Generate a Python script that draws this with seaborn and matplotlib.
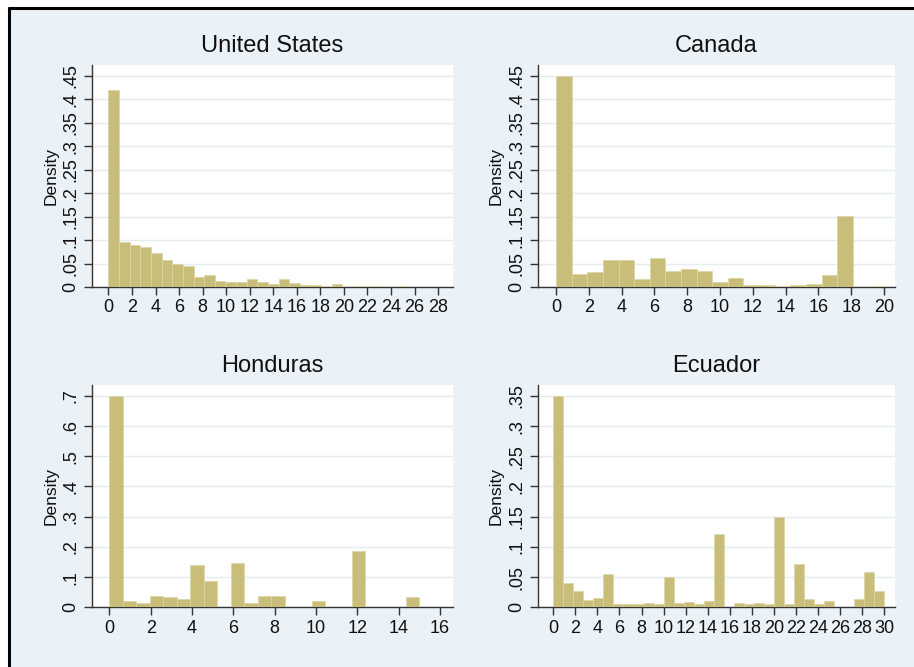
import numpy as np
import pandas as pd
import matplotlib
matplotlib.use("Agg")
import matplotlib.pyplot as plt
from matplotlib.patches import Rectangle
from matplotlib.lines import Line2D
import seaborn as sns

sns.set_style("white")
plt.rcParams['font.family'] = ['Liberation Sans', 'DejaVu Sans']

# ---- data (density per bin) ----
titles = ["United States", "Canada", "Honduras", "Ecuador"]
range_max = [28, 20, 15, 30]

us_density = [0.420, 0.096, 0.089, 0.086, 0.073, 0.058, 0.050, 0.045, 0.021, 0.026,
              0.013, 0.011, 0.011, 0.016, 0.011, 0.007, 0.016, 0.008, 0.004, 0.004,
              0.0015, 0.007, 0.0, 0.002, 0.002, 0.002, 0.0, 0.002, 0.0, 0.0, 0.0]
canada_density = [0.450, 0.028, 0.031, 0.058, 0.058, 0.018, 0.061, 0.035, 0.038, 0.035,
                  0.010, 0.019, 0.004, 0.004, 0.002, 0.004, 0.007, 0.026, 0.152, 0.0, 0.002]
honduras_density = [0.700, 0.020, 0.015, 0.038, 0.034, 0.026, 0.140, 0.086, 0.0, 0.147,
                    0.013, 0.038, 0.038, 0.0, 0.0, 0.020, 0.0, 0.0, 0.187, 0.0,
                    0.0, 0.0, 0.034]
ecuador_density = [0.350, 0.041, 0.0265, 0.012, 0.015, 0.055, 0.005, 0.005, 0.005, 0.007,
                   0.005, 0.050, 0.007, 0.008, 0.005, 0.010, 0.122, 0.0, 0.007, 0.0055,
                   0.007, 0.0055, 0.150, 0.0055, 0.072, 0.014, 0.0055, 0.010, 0.0, 0.0,
                   0.014, 0.059, 0.0265]
densities = [us_density, canada_density, honduras_density, ecuador_density]

y_ticks = [[0, .05, .1, .15, .2, .25, .3, .35, .4, .45],
           [0, .05, .1, .15, .2, .25, .3, .35, .4, .45],
           [0, .1, .2, .3, .4, .5, .6, .7],
           [0, .05, .1, .15, .2, .25, .3, .35]]
y_ticklabels = [["0", ".05", ".1", ".15", ".2", ".25", ".3", ".35", ".4", ".45"],
                ["0", ".05", ".1", ".15", ".2", ".25", ".3", ".35", ".4", ".45"],
                ["0", ".1", ".2", ".3", ".4", ".5", ".6", ".7"],
                ["0", ".05", ".1", ".15", ".2", ".25", ".3", ".35"]]
x_tick_max = [28, 20, 16, 30]
x_limits = [(-1.4, 29.27), (-1.12, 20.67), (-0.84, 16.63), (-1.42, 31.0)]
y_top = [0.473, 0.473, 0.736, 0.368]

BAR = "#C9BD7A"
BG = "#EAF1F7"
GRID = "#E4ECEF"

W, H = 914, 667
fig = plt.figure(figsize=(W / 100, H / 100), dpi=100)
fig.patch.set_facecolor("white")
fig.patches.append(Rectangle((10 / W, 0), 1 - 10 / W, 1 - 8 / H, transform=fig.transFigure,
                             facecolor=BG, edgecolor="none", zorder=-10))
fig.lines.append(Line2D([9 / W, 1], [1 - 8 / H, 1 - 8 / H], transform=fig.transFigure,
                        color="black", lw=2.2))
fig.lines.append(Line2D([9 / W, 9 / W], [0, 1 - 8 / H], transform=fig.transFigure,
                        color="black", lw=2.2))

# axes boxes in pixels: left, right, top, bottom
boxes = [(92, 453, 65, 287), (537.7, 895, 65, 287),
         (92, 453, 385, 607.3), (537.7, 895, 385, 607.3)]

for i in range(4):
    l, r, t, b = boxes[i]
    ax = fig.add_axes([l / W, 1 - b / H, (r - l) / W, (b - t) / H])
    ax.set_facecolor("white")
    dens = densities[i]
    n = len(dens)
    edges = np.linspace(0, range_max[i], n + 1)
    centers = (edges[:-1] + edges[1:]) / 2
    df = pd.DataFrame({"value": centers, "density": dens})
    sns.histplot(data=df, x="value", weights="density", bins=n,
                 binrange=(0, range_max[i]), ax=ax,
                 color=BAR, alpha=1, edgecolor="#DDD5A8", linewidth=0.5, zorder=3)
    ax.set_xlim(*x_limits[i])
    ax.set_ylim(0, y_top[i])
    ax.set_xticks(np.arange(0, x_tick_max[i] + 1, 2))
    ax.set_yticks(y_ticks[i])
    ax.set_yticklabels(y_ticklabels[i], rotation=90, va="center")
    ax.tick_params(axis="both", direction="out", length=6, width=1, color="#333333",
                   labelsize=13, labelcolor="#111111", pad=3, left=True, bottom=True)
    ax.grid(axis="y", color=GRID, lw=1, zorder=0)
    ax.grid(axis="x", visible=False)
    ax.set_axisbelow(True)
    for s in ["top", "right"]:
        ax.spines[s].set_visible(False)
    for s in ["left", "bottom"]:
        ax.spines[s].set_color("#333333")
        ax.spines[s].set_linewidth(1)
    ax.set_xlabel("")
    ax.set_ylabel("Density", fontsize=12.5, color="#111111", labelpad=3)
    ax.set_title(titles[i], fontsize=17, color="#111111", pad=9)

fig.savefig("out.png", dpi=100, facecolor=fig.get_facecolor())
